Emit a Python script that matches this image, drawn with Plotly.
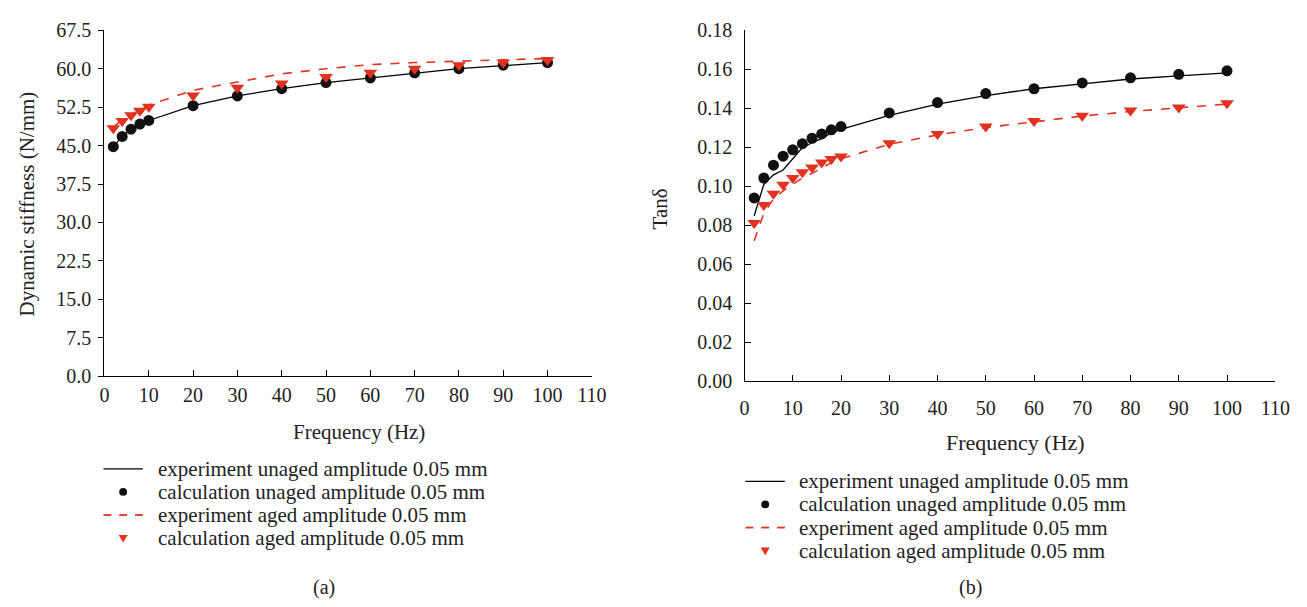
import plotly.graph_objects as go

W, H = 1307, 607
RED = "#e2311f"
FONT = "Liberation Serif, Times New Roman, DejaVu Serif, serif"
TXT = "#222222"

# ---- (a) Dynamic stiffness ----
freq_a = [2, 4, 6, 8, 10, 20, 30, 40, 50, 60, 70, 80, 90, 100]
exp_unaged_a = [44.8, 46.8, 48.2, 49.2, 49.9, 52.8, 54.7, 56.1, 57.3, 58.2, 59.2, 60.0, 60.6, 61.2]
calc_unaged_a = [44.8, 46.8, 48.2, 49.2, 49.9, 52.8, 54.7, 56.1, 57.3, 58.2, 59.2, 60.0, 60.7, 61.2]
exp_aged_a = [48.6, 50.0, 51.1, 52.0, 52.9, 55.8, 57.4, 59.0, 60.0, 60.8, 61.2, 61.5, 61.7, 62.0]
calc_aged_a = [48.4, 49.8, 50.9, 51.8, 52.6, 54.8, 56.3, 57.1, 58.4, 59.2, 60.0, 60.7, 61.2, 61.7]

# ---- (b) Tan delta ----
freq_b = [2, 4, 6, 8, 10, 12, 14, 16, 18, 20, 30, 40, 50, 60, 70, 80, 90, 100]
exp_unaged_b = [0.0847, 0.1009, 0.1058, 0.1083, 0.1141, 0.1198, 0.1223, 0.1244, 0.1273, 0.1292,
                0.1363, 0.1421, 0.1465, 0.1500, 0.1525, 0.1550, 0.1566, 0.1581]
calc_unaged_b = [0.0940, 0.1042, 0.1108, 0.1154, 0.1187, 0.1218, 0.1246, 0.1268, 0.1289, 0.1306,
                 0.1376, 0.1429, 0.1475, 0.1500, 0.1530, 0.1556, 0.1574, 0.1592]
exp_aged_b = [0.0720, 0.0860, 0.0935, 0.0976, 0.1009, 0.1042, 0.1066, 0.1095, 0.1121, 0.1141,
              0.1215, 0.1263, 0.1301, 0.1330, 0.1360, 0.1383, 0.1403, 0.1421]
calc_aged_b = [0.0811, 0.0903, 0.0961, 0.1007, 0.1042, 0.1071, 0.1096, 0.1121, 0.1139, 0.1152,
               0.1220, 0.1268, 0.1306, 0.1335, 0.1361, 0.1388, 0.1404, 0.1426]

names = ["experiment unaged amplitude 0.05 mm",
         "calculation unaged amplitude 0.05 mm",
         "experiment aged amplitude 0.05 mm",
         "calculation aged amplitude 0.05 mm"]

xticks = list(range(0, 111, 10))
yticks_a = [0, 7.5, 15, 22.5, 30, 37.5, 45, 52.5, 60, 67.5]
yticks_b = [0, 0.02, 0.04, 0.06, 0.08, 0.10, 0.12, 0.14, 0.16, 0.18]

fig = go.Figure()

def add_set(f, eu, cu, ea, ca, xa, ya):
    fig.add_trace(go.Scatter(x=f, y=eu, mode="lines", name=names[0], xaxis=xa, yaxis=ya,
                             line=dict(color="black", width=1.3)))
    fig.add_trace(go.Scatter(x=f, y=cu, mode="markers", name=names[1], xaxis=xa, yaxis=ya,
                             marker=dict(color="#111111", size=11, symbol="circle")))
    fig.add_trace(go.Scatter(x=f, y=ea, mode="lines", name=names[2], xaxis=xa, yaxis=ya,
                             line=dict(color=RED, width=1.6, dash="dash")))
    fig.add_trace(go.Scatter(x=f, y=ca, mode="markers", name=names[3], xaxis=xa, yaxis=ya,
                             marker=dict(color=RED, size=12, symbol="triangle-down")))

add_set(freq_a, exp_unaged_a, calc_unaged_a, exp_aged_a, calc_aged_a, "x", "y")
add_set(freq_b, exp_unaged_b, calc_unaged_b, exp_aged_b, calc_aged_b, "x2", "y2")

def px(x):
    return x / W

def py(y):
    return 1 - y / H

axis_common = dict(showline=True, linecolor="black", linewidth=1.3, showgrid=False, zeroline=False,
                   ticks="inside", ticklen=6, tickwidth=1.2, tickcolor="black",
                   tickfont=dict(family=FONT, size=20, color=TXT))

fig.update_layout(
    width=W, height=H, margin=dict(l=0, r=0, t=0, b=0),
    paper_bgcolor="white", plot_bgcolor="white",
    font=dict(family=FONT, color=TXT),
    showlegend=False,
    xaxis=dict(axis_common, domain=[px(101), px(596)], range=[0, 110], tickvals=xticks,
               anchor="y", ticklabelstandoff=1),
    yaxis=dict(axis_common, domain=[py(379), py(20)], range=[0, 67.5], tickvals=yticks_a,
               ticktext=[f"{v:.1f}" for v in yticks_a], ticks="outside", ticklen=5, anchor="x",
               ticklabelstandoff=3),
    xaxis2=dict(axis_common, domain=[px(751), px(1290)], range=[0, 110], tickvals=xticks,
                anchor="y2", ticklabelstandoff=9),
    yaxis2=dict(axis_common, domain=[py(384), py(20)], range=[0, 0.18], tickvals=yticks_b,
                ticktext=[f"{v:.2f}" for v in yticks_b], anchor="x2", ticklabelstandoff=7),
)

def annot(text, x, y, size, ang=0, xanchor="center"):
    fig.add_annotation(text=text, x=px(x), y=py(y), xref="paper", yref="paper",
                       xanchor=xanchor, yanchor="middle", showarrow=False, textangle=ang,
                       font=dict(family=FONT, size=size, color=TXT))

annot("Frequency (Hz)", 360, 437, 21)
annot("Dynamic stiffness (N/mm)", 22, 200, 21, -90)
annot("Frequency (Hz)", 1026, 448, 22)
annot("Tanδ", 665, 205, 21, -90)
annot("(a)", 324, 598, 20)
annot("(b)", 981, 598, 20)

# ---- hand-drawn legends (compact row spacing as in the reference) ----
def legend(x_line0, x_text, rows):
    y1, y2, y3, y4 = rows
    xm = x_line0 + 20
    fig.add_shape(type="line", xref="paper", yref="paper",
                  x0=px(x_line0), x1=px(x_line0 + 40), y0=py(y1), y1=py(y1),
                  line=dict(color="black", width=1.3))
    fig.add_shape(type="circle", xref="paper", yref="paper",
                  x0=px(xm - 4), x1=px(xm + 4), y0=py(y2 - 4), y1=py(y2 + 4),
                  fillcolor="#111111", line=dict(color="#111111", width=0))
    for k in range(3):
        fig.add_shape(type="line", xref="paper", yref="paper",
                      x0=px(x_line0 + k * 16), x1=px(x_line0 + k * 16 + 8), y0=py(y3), y1=py(y3),
                      line=dict(color=RED, width=1.8))
    t = 4.6
    path = (f"M {px(xm - t)} {py(y4 - t * 0.7)} L {px(xm + t)} {py(y4 - t * 0.7)} "
            f"L {px(xm)} {py(y4 + t * 1.0)} Z")
    fig.add_shape(type="path", xref="paper", yref="paper", path=path,
                  fillcolor=RED, line=dict(color=RED, width=0))
    for name, y in zip(names, rows):
        annot(name, x_text, y, 21, 0, "left")

legend(100, 153, [475, 499, 523, 547])
legend(752, 804, [488, 512, 536, 560])

fig.write_html("out.html")
